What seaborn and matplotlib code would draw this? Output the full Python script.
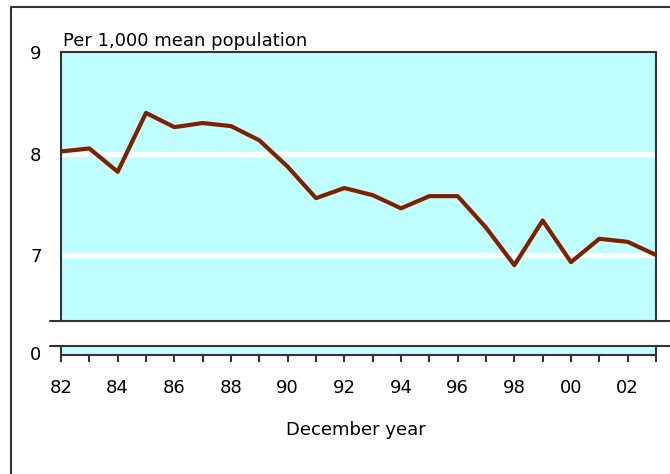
import numpy as np
import pandas as pd
import matplotlib
matplotlib.use('Agg')
import matplotlib.pyplot as plt
from matplotlib.lines import Line2D
import seaborn as sns
#
# Values (per 1,000 mean population, December years):
years = [1982, 1983, 1984, 1985, 1986, 1987, 1988, 1989, 1990, 1991, 1992,
         1993, 1994, 1995, 1996, 1997, 1998, 1999, 2000, 2001, 2002, 2003]
rates = [8.02, 8.05, 7.82, 8.40, 8.26, 8.30, 8.27, 8.13, 7.87, 7.56, 7.66,
         7.59, 7.46, 7.58, 7.58, 7.27, 6.90, 7.34, 6.93, 7.16, 7.13, 7.00]
ytick_values = [7, 8, 9]
xtick_years = list(range(1982, 2004, 2))
xtick_labels = [str(y)[2:] for y in xtick_years]
#
df = pd.DataFrame({'year': years, 'rate': rates})
#
sns.set_style('white')
plt.rcParams['font.family'] = ['DejaVu Sans']
plt.rcParams['font.size'] = 13
plt.rcParams['text.color'] = 'black'
plt.rcParams['xtick.color'] = 'black'
plt.rcParams['ytick.color'] = 'black'
#
bg = '#C0FFFF'
line_color = '#7F2000'
edge = '#333333'
#
fig = plt.figure(figsize=(6.7, 4.74), dpi=100)
W, H = 670, 474
#
# Upper (main) panel:
ax = fig.add_axes([61 / W, 1 - 321 / H, (656 - 61) / W, (321 - 52) / H])
ax.set_facecolor(bg)
sns.lineplot(data=df, x='year', y='rate', color=line_color, linewidth=3,
             ax=ax, zorder=3)
ax.set_xlim(1982, 2003)
ax.set_ylim(6.35, 9)
ax.set_yticks(ytick_values)
ax.set_yticklabels([str(v) for v in ytick_values])
ax.set_xticks([])
ax.set_xlabel('')
ax.set_ylabel('')
ax.tick_params(axis='y', length=0, pad=14, labelsize=13)
for v in [7, 8]:
    ax.axhline(v, color='white', linewidth=3.8, zorder=1)
for s in ax.spines.values():
    s.set_color(edge)
    s.set_linewidth(1.5)
ax.spines['bottom'].set_visible(False)
ax.axhline(6.35, xmin=-11 / 595, xmax=1 + 16 / 595, color=edge,
           linewidth=1.5, clip_on=False, zorder=4)
#
# Lower panel showing the zero of the broken axis:
ax0 = fig.add_axes([61 / W, 1 - 355 / H, (656 - 61) / W, (355 - 346) / H])
ax0.set_facecolor(bg)
ax0.set_xlim(1982, 2003)
ax0.set_ylim(-1, 0)
ax0.set_yticks([0])
ax0.set_yticklabels(['0'])
ax0.tick_params(axis='y', length=0, pad=14, labelsize=13)
for lab in ax0.get_yticklabels():
    lab.set_va('top')
ax0.set_xticks(xtick_years)
ax0.set_xticklabels(xtick_labels)
ax0.set_xticks(years, minor=True)
ax0.tick_params(axis='x', which='both', direction='out', length=5, width=1.5,
                color=edge, labelcolor='black', bottom=True, pad=12,
                labelsize=13)
for s in ax0.spines.values():
    s.set_color(edge)
    s.set_linewidth(1.5)
ax0.spines['top'].set_visible(False)
ax0.axhline(0, xmin=-11 / 595, xmax=1 + 16 / 595, color=edge,
            linewidth=1.5, clip_on=False, zorder=4)
#
# Texts:
fig.text(63 / W, 1 - 46 / H, 'Per 1,000 mean population', ha='left',
         va='baseline', fontsize=13)
fig.text(356 / W, 1 - 430 / H, 'December year', ha='center', va='center',
         fontsize=13)
#
# Outer frame (left and top edges):
fig.add_artist(Line2D([11 / W, 11 / W, 1], [0, 1 - 7 / H, 1 - 7 / H],
                      transform=fig.transFigure, color=edge, linewidth=1.5))
#
fig.savefig('out.png', dpi=100)
